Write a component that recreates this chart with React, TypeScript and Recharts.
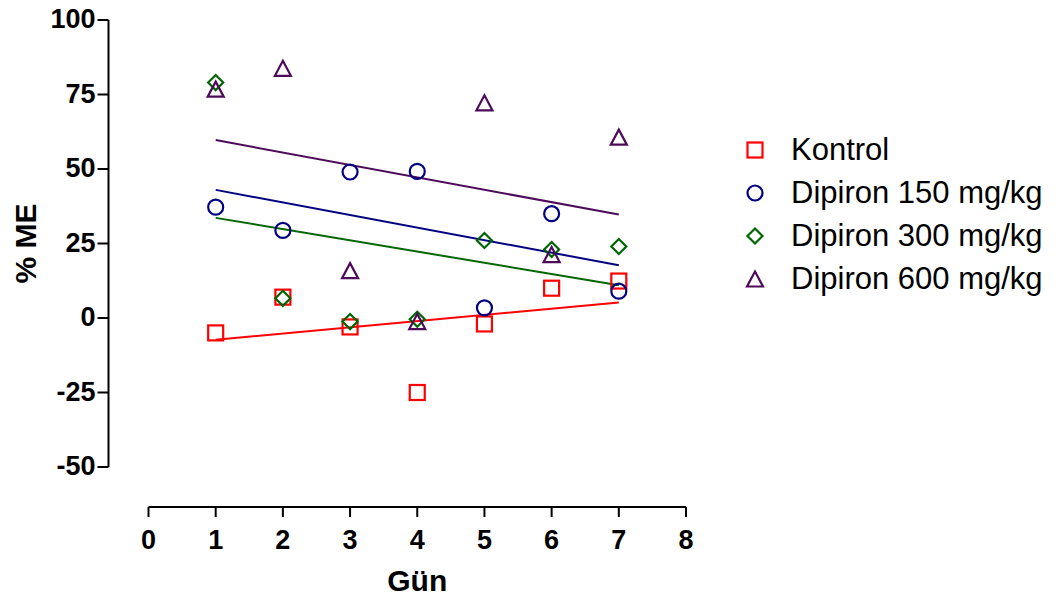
import { ScatterChart, Scatter, XAxis, YAxis } from "recharts"

// values
const DAYS = [1, 2, 3, 4, 5, 6, 7]
const KONTROL = [-5, 7, -3, -25, -2, 10, 12.4]
const DIP_150 = [37.2, 29.4, 49, 49.2, 3.4, 35, 9]
const DIP_300 = [79, 6.6, -1.2, -0.4, 26, 23, 24]
const DIP_600 = [76.8, 83.8, 15.9, -1.2, 72.2, 21.3, 60.7]

// fitted lines, start (day 1) and end (day 7) as drawn
const FIT_START = [-7.3, 43, 33.6, 59.7]
const FIT_END = [5.2, 17.7, 11, 34.7]

const X_TICKS = [0, 1, 2, 3, 4, 5, 6, 7, 8]
const Y_TICKS = [-50, -25, 0, 25, 50, 75, 100]

const SERIES = [
  { name: "Kontrol", values: KONTROL, color: "#ff0000", marker: "square" },
  { name: "Dipiron 150 mg/kg", values: DIP_150, color: "#000080", marker: "circle" },
  { name: "Dipiron 300 mg/kg", values: DIP_300, color: "#006600", marker: "diamond" },
  { name: "Dipiron 600 mg/kg", values: DIP_600, color: "#4d0a5a", marker: "triangle" },
]

const FONT = "'Liberation Sans', Arial, sans-serif"
const GAP = 40 // detached axes, Prism style

function Marker({ cx, cy, kind, color }: { cx: number; cy: number; kind: string; color: string }) {
  const r = 7.5
  const common = { fill: "none", stroke: color, strokeWidth: 2.2 }
  if (kind === "square") return <rect x={cx - r} y={cy - r} width={r * 2} height={r * 2} {...common} />
  if (kind === "circle") return <circle cx={cx} cy={cy} r={r} {...common} />
  if (kind === "diamond")
    return <polygon points={`${cx},${cy - r} ${cx + r},${cy} ${cx},${cy + r} ${cx - r},${cy}`} {...common} />
  return <polygon points={`${cx},${cy - r} ${cx + 8},${cy + r} ${cx - 8},${cy + r}`} {...common} />
}

function XTick({ x, y, payload }: any) {
  return (
    <text x={x} y={y + GAP + 32} textAnchor="middle" fontFamily={FONT} fontWeight="bold" fontSize={27} fill="#000">
      {payload.value}
    </text>
  )
}

function YTick({ x, y, payload }: any) {
  return (
    <text x={x - GAP - 2} y={y} dy="0.3em" textAnchor="end" fontFamily={FONT} fontWeight="bold" fontSize={27} fill="#000">
      {payload.value}
    </text>
  )
}

function XLabel({ viewBox }: any) {
  return (
    <text x={viewBox.x + viewBox.width / 2} y={viewBox.y + 124} textAnchor="middle" fontFamily={FONT} fontWeight="bold" fontSize={30} fill="#000">
      Gün
    </text>
  )
}

function YLabel({ viewBox }: any) {
  const cy = viewBox.y + viewBox.height / 2
  return (
    <text x={36} y={cy} transform={`rotate(-90, 36, ${cy})`} textAnchor="middle" fontFamily={FONT} fontWeight="bold" fontSize={30} fill="#000">
      % ME
    </text>
  )
}

export default function App() {
  const axisStroke = { stroke: "#000", strokeWidth: 2 }
  return (
    <div style={{ position: "absolute", left: 0, top: 0, width: 1058, height: 603, background: "#fff" }}>
      <ScatterChart width={1058} height={603} margin={{ top: 20, right: 372, bottom: 0, left: 0 }}>
        <XAxis
          type="number"
          dataKey="x"
          domain={[0, 8]}
          ticks={X_TICKS}
          interval={0}
          height={136}
          tickSize={10}
          tickMargin={0}
          axisLine={{ ...axisStroke, transform: `translate(0,${GAP})` }}
          tickLine={{ ...axisStroke, transform: `translate(0,${GAP})` }}
          tick={<XTick />}
          label={<XLabel />}
        />
        <YAxis
          type="number"
          dataKey="y"
          domain={[-50, 100]}
          ticks={Y_TICKS}
          interval={0}
          width={148.5}
          tickSize={11}
          tickMargin={0}
          axisLine={{ ...axisStroke, transform: `translate(-${GAP},0)` }}
          tickLine={{ ...axisStroke, transform: `translate(-${GAP},0)` }}
          tick={<YTick />}
          label={<YLabel />}
        />
        {SERIES.map((s, i) => (
          <Scatter
            key={"fit-" + s.name}
            data={[
              { x: DAYS[0], y: FIT_START[i] },
              { x: DAYS[DAYS.length - 1], y: FIT_END[i] },
            ]}
            line={{ stroke: s.color, strokeWidth: 2 }}
            shape={() => <g />}
            isAnimationActive={false}
          />
        ))}
        {SERIES.map((s) => (
          <Scatter
            key={s.name}
            name={s.name}
            data={DAYS.map((d, j) => ({ x: d, y: s.values[j] }))}
            shape={(p: any) => <Marker cx={p.cx} cy={p.cy} kind={s.marker} color={s.color} />}
            isAnimationActive={false}
          />
        ))}
      </ScatterChart>

      {SERIES.map((s, i) => (
        <div
          key={s.name}
          style={{
            position: "absolute",
            left: 745,
            top: 128 + i * 43,
            height: 43,
            display: "flex",
            alignItems: "center",
            fontFamily: FONT,
            fontSize: 31,
            color: "#000",
            whiteSpace: "nowrap",
          }}
        >
          <svg width={20} height={20} style={{ marginRight: 26 }}>
            <Marker cx={10} cy={10} kind={s.marker} color={s.color} />
          </svg>
          <span>{s.name}</span>
        </div>
      ))}
    </div>
  )
}
